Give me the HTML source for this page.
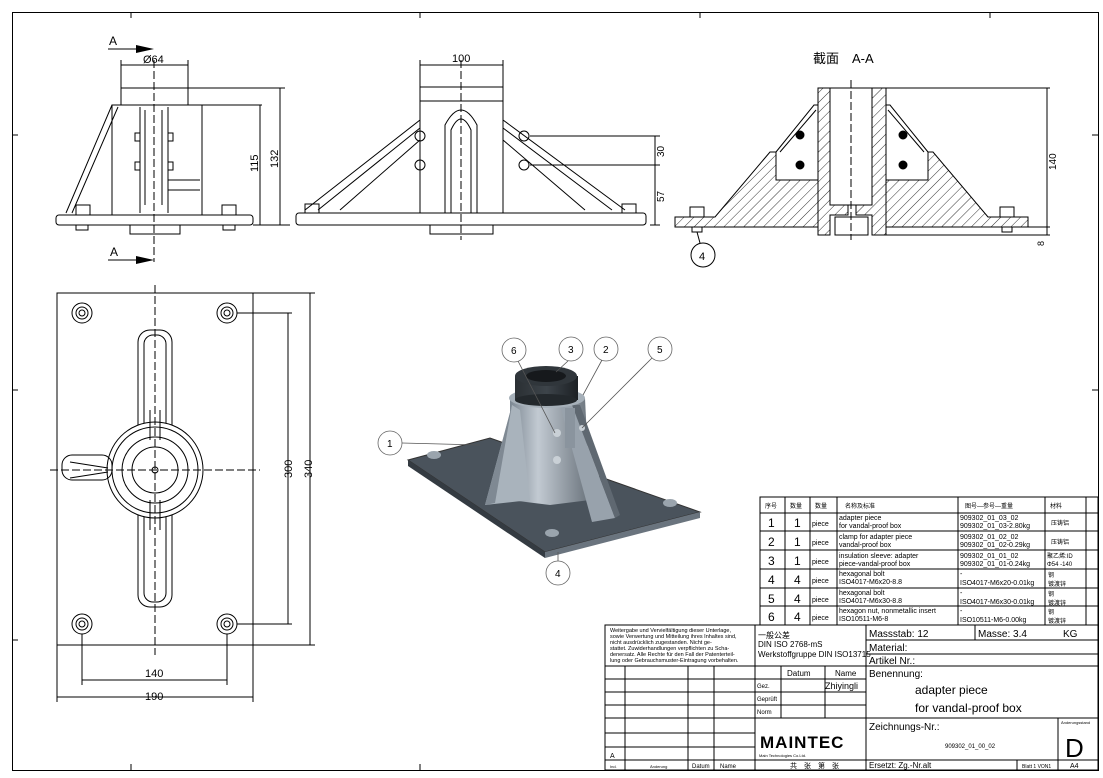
<!DOCTYPE html>
<html><head><meta charset="utf-8">
<style>
html,body{margin:0;padding:0;background:#fff;}
svg{display:block;}
text{font-family:"Liberation Sans","Noto Sans CJK SC",sans-serif;fill:#000;stroke:none;}
.m{font-family:"Liberation Mono","Noto Sans CJK SC",monospace;}
</style></head><body>
<svg width="1103" height="778" viewBox="0 0 1103 778" xmlns="http://www.w3.org/2000/svg">
<defs>
<pattern id="h" patternUnits="userSpaceOnUse" width="7" height="7" patternTransform="rotate(45)">
<line x1="0" y1="0" x2="0" y2="7" stroke="#000" stroke-width="0.8"/></pattern>
<linearGradient id="g1" x1="0" x2="1"><stop offset="0" stop-color="#7c8792"/><stop offset="0.35" stop-color="#c2cad2"/><stop offset="1" stop-color="#6a737c"/></linearGradient>
<linearGradient id="g2" x1="0" x2="1"><stop offset="0" stop-color="#2a2f33"/><stop offset="0.5" stop-color="#3d444a"/><stop offset="1" stop-color="#1c2024"/></linearGradient>
</defs>
<g fill="none" stroke="#000" stroke-width="1">
<!-- frame -->
<rect x="12.5" y="12.5" width="1086" height="758"/>
<line x1="131" y1="12" x2="131" y2="18"/><line x1="420" y1="12" x2="420" y2="18"/><line x1="700" y1="12" x2="700" y2="18"/><line x1="990" y1="12" x2="990" y2="18"/>
<line x1="131" y1="764" x2="131" y2="770"/><line x1="420" y1="764" x2="420" y2="770"/>
<line x1="12" y1="135" x2="18" y2="135"/><line x1="12" y1="390" x2="18" y2="390"/><line x1="12" y1="640" x2="18" y2="640"/>
<line x1="1092" y1="135" x2="1098" y2="135"/><line x1="1092" y1="390" x2="1098" y2="390"/>

<!-- FRONT VIEW LEFT -->
<rect x="121" y="88" width="67" height="17"/>
<rect x="112" y="105" width="90" height="110"/>
<path d="M112 105 L66 213 M118 107 L72 213"/>
<rect x="56" y="215" width="197" height="10" rx="3"/>
<rect x="130" y="225" width="50" height="9"/>
<rect x="76" y="205" width="14" height="10"/><rect x="222" y="205" width="14" height="10"/>
<rect x="76" y="225" width="12" height="5"/><rect x="223" y="225" width="12" height="5"/>
<path d="M140 107 L140 213 M168 107 L168 213 M145 110 L145 205 M162 110 L162 205"/>
<rect x="135" y="133" width="5" height="8"/><rect x="168" y="133" width="5" height="8"/>
<rect x="135" y="162" width="5" height="8"/><rect x="168" y="162" width="5" height="8"/>
<path d="M168 180 L200 180 M168 190 L200 190"/>
<line x1="154" y1="60" x2="154" y2="262" stroke-dasharray="8,3"/>
<path d="M121 88 L121 60 M188 88 L188 60 M121 65 L188 65"/>
<path d="M202 105 L262 105 M188 88 L285 88 M253 225 L290 225 M260 105 L260 225 M280 88 L280 225"/>
<path d="M108 49 L150 49 M108 260 L150 260"/>

<!-- FRONT VIEW MIDDLE -->
<rect x="420" y="87" width="83" height="14"/>
<path d="M420 101 L420 213 M503 101 L503 213"/>
<path d="M445 213 L445 125 Q461 95 477 125 L477 213 M451 213 L451 130 Q461 108 471 130 L471 213"/>
<path d="M420 120 L305 210 M420 128 L318 210 M503 120 L625 210 M503 128 L612 210"/>
<path d="M420 140 L340 210 M503 140 L585 210"/>
<rect x="296" y="213" width="350" height="12" rx="3"/>
<rect x="430" y="225" width="63" height="9"/>
<circle cx="420" cy="136" r="5"/><circle cx="420" cy="165" r="5"/><circle cx="524" cy="136" r="5"/><circle cx="524" cy="165" r="5"/>
<rect x="305" y="204" width="14" height="9"/><rect x="622" y="204" width="14" height="9"/>
<line x1="461" y1="60" x2="461" y2="240" stroke-dasharray="8,3"/>
<path d="M420 87 L420 60 M503 87 L503 60 M420 65 L503 65"/>
<path d="M530 136 L660 136 M530 165 L660 165 M650 225 L660 225 M655 136 L655 225"/>

<!-- SECTION A-A -->
<polygon points="675,217 715,217 770,152 776,152 776,180 818,180 818,227 675,227" fill="url(#h)"/>
<polygon points="1028,217 988,217 933,152 928,152 928,180 886,180 886,227 1028,227" fill="url(#h)"/>
<polygon points="818,88 830,88 830,205 848,205 848,215 830,215 830,235 818,235" fill="url(#h)"/>
<polygon points="886,88 872,88 872,205 856,205 856,215 872,215 872,235 886,235" fill="url(#h)"/>
<rect x="830" y="88" width="42" height="117"/>
<rect x="835" y="217" width="33" height="18"/>
<path d="M776 152 L776 180 L818 180 M776 152 L814 105 L818 105 M780 152 L816 110"/>
<path d="M928 152 L928 180 L886 180 M928 152 L890 105 L886 105 M924 152 L888 110"/>
<circle cx="800" cy="135" r="4" fill="#000"/><circle cx="800" cy="165" r="4" fill="#000"/>
<circle cx="903" cy="135" r="4" fill="#000"/><circle cx="903" cy="165" r="4" fill="#000"/>
<rect x="690" y="207" width="14" height="10"/><rect x="1000" y="207" width="14" height="10"/>
<rect x="692" y="227" width="10" height="5"/><rect x="1002" y="227" width="10" height="5"/>
<line x1="851" y1="80" x2="851" y2="240" stroke-dasharray="8,3"/>
<path d="M886 88 L1050 88 M886 235 L1050 235 M1028 227 L1050 227 M1047 88 L1047 235"/>
<circle cx="703" cy="255" r="12"/><path d="M697 232 L700 243"/>
</g>
<polygon points="136,45 154,49 136,53"/><polygon points="136,256 154,260 136,264"/>
<text x="109" y="45" font-size="12">A</text><text x="110" y="256" font-size="12">A</text>
<text x="143" y="63" font-size="11">Ø64</text>
<text x="0" y="0" font-size="11" transform="translate(258,172) rotate(-90)">115</text>
<text x="0" y="0" font-size="11" transform="translate(278,168) rotate(-90)">132</text>
<text x="452" y="62" font-size="11">100</text>
<text x="0" y="0" font-size="10" transform="translate(664,157) rotate(-90)">30</text>
<text x="0" y="0" font-size="10" transform="translate(664,202) rotate(-90)">57</text>
<text x="0" y="0" font-size="10" transform="translate(1056,170) rotate(-90)">140</text>
<text x="0" y="0" font-size="9" transform="translate(1044,246) rotate(-90)">8</text>
<text x="699" y="260" font-size="11">4</text>
<text x="813" y="63" font-size="13">截面　A-A</text>

<!-- PLAN VIEW -->
<g fill="none" stroke="#000" stroke-width="1">
<rect x="57" y="293" width="196" height="352"/>
<g><circle cx="82" cy="313" r="10"/><circle cx="82" cy="313" r="6"/><circle cx="82" cy="313" r="3"/>
<circle cx="227" cy="313" r="10"/><circle cx="227" cy="313" r="6"/><circle cx="227" cy="313" r="3"/>
<circle cx="82" cy="624" r="10"/><circle cx="82" cy="624" r="6"/><circle cx="82" cy="624" r="3"/>
<circle cx="227" cy="624" r="10"/><circle cx="227" cy="624" r="6"/><circle cx="227" cy="624" r="3"/></g>
<rect x="138" y="330" width="34" height="277" rx="12"/>
<rect x="144" y="335" width="22" height="267" rx="9"/>
<circle cx="155" cy="470" r="48" fill="#fff"/><circle cx="155" cy="470" r="43"/><circle cx="155" cy="470" r="33"/><circle cx="155" cy="470" r="23"/><circle cx="155" cy="470" r="3"/>
<path d="M150 410 L150 440 M160 410 L160 440 M150 500 L150 530 M160 500 L160 530"/>
<rect x="62" y="455" width="50" height="25" rx="10"/>
<path d="M70 462 L108 468 M70 478 L108 472"/>
<line x1="155" y1="285" x2="155" y2="655" stroke-dasharray="8,3"/>
<line x1="50" y1="470" x2="260" y2="470" stroke-dasharray="8,3"/>
<path d="M237 313 L292 313 M237 624 L292 624 M253 293 L315 293 M253 645 L315 645 M288 313 L288 624 M310 293 L310 645"/>
<path d="M82 634 L82 685 M227 634 L227 685 M57 645 L57 702 M253 645 L253 702 M82 680 L227 680 M57 697 L253 697"/>
</g>
<text x="0" y="0" font-size="11" transform="translate(292,478) rotate(-90)">300</text>
<text x="0" y="0" font-size="11" transform="translate(312,478) rotate(-90)">340</text>
<text x="145" y="677" font-size="11">140</text>
<text x="145" y="700" font-size="11">190</text>

<!-- 3D view -->
<polygon points="408,460 490,438 700,512 545,552" fill="#4a535c" stroke="#333"/>
<polygon points="408,460 545,552 545,558 408,466" fill="#343b42"/>
<polygon points="545,552 700,512 700,518 545,558" fill="#6a747e"/>
<polygon points="510,398 585,398 590,500 550,505 510,500" fill="url(#g1)"/>
<polygon points="512,405 520,410 530,500 485,505" fill="#a9b3bc"/>
<polygon points="512,405 500,450 485,505 495,503" fill="#7f8993"/>
<polygon points="560,405 572,405 615,518 592,522" fill="#98a2ac"/>
<polygon points="572,405 580,405 620,515 615,518" fill="#5f6871"/>
<rect x="565" y="408" width="10" height="40" fill="#8a949e"/>
<ellipse cx="547" cy="398" rx="38" ry="10" fill="#a6b0b9"/>
<rect x="515" y="376" width="63" height="24" fill="url(#g2)"/>
<ellipse cx="546" cy="400" rx="31" ry="6" fill="#23282c"/>
<ellipse cx="546" cy="376" rx="31" ry="10" fill="#30363b"/>
<ellipse cx="546" cy="376" rx="20" ry="6" fill="#16191c"/>
<g fill="#9aa4ad"><ellipse cx="434" cy="455" rx="7" ry="4"/><ellipse cx="552" cy="533" rx="7" ry="4"/><ellipse cx="670" cy="503" rx="7" ry="4"/></g>
<g fill="#c9d0d6"><circle cx="557" cy="433" r="4"/><circle cx="557" cy="460" r="4"/><circle cx="582" cy="428" r="3"/></g>
<g fill="#fff" stroke="#666" stroke-width="0.8">
<circle cx="390" cy="443" r="12"/><circle cx="514" cy="350" r="12"/><circle cx="571" cy="349" r="12"/><circle cx="606" cy="349" r="12"/><circle cx="660" cy="349" r="12"/><circle cx="558" cy="573" r="12"/></g>
<path d="M402 443 L480 445 M518 361 L555 433 M568 361 L556 372 M602 360 L583 395 M652 358 L582 428 M558 561 L558 552" fill="none" stroke="#555" stroke-width="0.8"/>
<g font-size="10" fill="#444"><text x="387" y="447">1</text><text x="511" y="354">6</text><text x="568" y="353">3</text><text x="603" y="353">2</text><text x="657" y="353">5</text><text x="555" y="577">4</text></g>

<!-- PARTS LIST -->
<g fill="none" stroke="#000" stroke-width="1">
<rect x="760" y="497" width="338" height="128"/>
<path d="M760 513 L1098 513 M760 531 L1098 531 M760 550 L1098 550 M760 569 L1098 569 M760 588 L1098 588 M760 606 L1098 606"/>
<path d="M785 497 L785 625 M810 497 L810 625 M837 497 L837 625 M958 497 L958 625 M1045 497 L1045 625 M1086 497 L1086 625"/>
</g>
<g class="m" font-size="7">
<text x="765" y="508" font-size="6">序号</text><text x="790" y="508" font-size="6">数量</text><text x="815" y="508" font-size="6">数量</text><text x="845" y="508" font-size="6">名称及标准</text><text x="965" y="508" font-size="6">图号—参号—重量</text><text x="1050" y="508" font-size="6">材料</text>
<text x="768" y="527" font-size="12">1</text><text x="794" y="527" font-size="12">1</text><text x="812" y="526">piece</text><text x="839" y="520">adapter piece</text><text x="839" y="528">for vandal-proof box</text><text x="960" y="520">909302_01_03_02</text><text x="960" y="528">909302_01_03-2.80kg</text><text x="1051" y="525" font-size="6">压铸铝</text>
<text x="768" y="546" font-size="12">2</text><text x="794" y="546" font-size="12">1</text><text x="812" y="545">piece</text><text x="839" y="539">clamp for adapter piece</text><text x="839" y="547">vandal-proof box</text><text x="960" y="539">909302_01_02_02</text><text x="960" y="547">909302_01_02-0.29kg</text><text x="1051" y="544" font-size="6">压铸铝</text>
<text x="768" y="565" font-size="12">3</text><text x="794" y="565" font-size="12">1</text><text x="812" y="564">piece</text><text x="839" y="558">insulation sleeve: adapter</text><text x="839" y="566">piece-vandal-proof box</text><text x="960" y="558">909302_01_01_02</text><text x="960" y="566">909302_01_01-0.24kg</text><text x="1047" y="558" font-size="6">聚乙烯:ID</text><text x="1047" y="566" font-size="6">Φ54 -140</text>
<text x="768" y="584" font-size="12">4</text><text x="794" y="584" font-size="12">4</text><text x="812" y="583">piece</text><text x="839" y="576">hexagonal bolt</text><text x="839" y="584">ISO4017-M6x20-8.8</text><text x="960" y="576">-</text><text x="960" y="585">ISO4017-M6x20-0.01kg</text><text x="1048" y="577" font-size="6">钢</text><text x="1048" y="586" font-size="6">镀渡锌</text>
<text x="768" y="603" font-size="12">5</text><text x="794" y="603" font-size="12">4</text><text x="812" y="602">piece</text><text x="839" y="595">hexagonal bolt</text><text x="839" y="603">ISO4017-M6x30-8.8</text><text x="960" y="595">-</text><text x="960" y="604">ISO4017-M6x30-0.01kg</text><text x="1048" y="596" font-size="6">钢</text><text x="1048" y="605" font-size="6">镀渡锌</text>
<text x="768" y="621" font-size="12">6</text><text x="794" y="621" font-size="12">4</text><text x="812" y="620">piece</text><text x="839" y="613">hexagon nut, nonmetallic insert</text><text x="839" y="621">ISO10511-M6-8</text><text x="960" y="613">-</text><text x="960" y="622">ISO10511-M6-0.00kg</text><text x="1048" y="614" font-size="6">钢</text><text x="1048" y="623" font-size="6">镀渡锌</text>
</g>

<!-- TITLE BLOCK -->
<g fill="none" stroke="#000" stroke-width="1">
<rect x="605" y="625" width="493" height="145"/>
<path d="M755 625 L755 770 M866 625 L866 770"/>
<path d="M605 666 L866 666 M605 679 L866 679 M605 692 L866 692 M605 705 L866 705 M605 718 L866 718 M605 733 L755 733 M605 747 L755 747 M605 760 L1098 760"/>
<path d="M625 666 L625 770 M688 666 L688 770 M714 666 L714 770 M781 666 L781 718 M825 666 L825 718"/>
<path d="M866 640 L1098 640 M866 654 L1098 654 M866 666 L1098 666 M866 718 L1098 718 M975 625 L975 640 M1058 718 L1058 770 M1017 760 L1017 770"/>
</g>
<g font-size="5.5"><text x="610" y="632">Weitergabe und Vervielfältigung dieser Unterlage,</text><text x="610" y="638">sowie Verwertung und Mitteilung ihres Inhaltes sind,</text><text x="610" y="644">nicht ausdrücklich zugestanden. Nicht ge-</text><text x="610" y="650">stattet. Zuwiderhandlungen verpflichten zu Scha-</text><text x="610" y="656">denersatz. Alle Rechte für den Fall der Patenterteil-</text><text x="610" y="662">lung oder Gebrauchsmuster-Eintragung vorbehalten.</text></g>
<g font-size="8"><text x="758" y="638">一般公差</text><text x="758" y="647">DIN ISO 2768-mS</text><text x="758" y="657">Werkstoffgruppe DIN ISO13715</text>
<text x="787" y="676">Datum</text><text x="835" y="676">Name</text><text x="757" y="688" font-size="6">Gez.</text><text x="757" y="701" font-size="6">Geprüft</text><text x="757" y="714" font-size="6">Norm</text>
<text x="825" y="689" font-family="Liberation Serif" font-size="9">Zhiyingli</text>
<text x="610" y="758" font-size="7">A</text><text x="610" y="768" font-size="4">Ind.</text><text x="650" y="768" font-size="4">Änderung</text><text x="692" y="768" font-size="6">Datum</text><text x="720" y="768" font-size="6">Name</text>
<text x="759" y="757" font-size="4">Main Technologies Co.Ltd.</text><text x="790" y="768" font-size="7">共　张　第　张</text>
</g>
<text x="760" y="748" font-size="17" font-weight="bold" letter-spacing="1">MAINTEC</text>
<g font-size="10"><text x="869" y="637">Massstab:  12</text><text x="978" y="637">Masse:  3.4</text><text x="1063" y="637">KG</text>
<text x="869" y="651">Material:</text><text x="869" y="664">Artikel Nr.:</text><text x="869" y="677">Benennung:</text>
<text x="869" y="730">Zeichnungs-Nr.:</text><text x="869" y="768" font-size="8">Ersetzt: Zg.-Nr.alt</text></g>
<text x="915" y="694" font-size="12">adapter piece</text><text x="915" y="712" font-size="12">for vandal-proof box</text>
<text x="945" y="748" font-size="6">909302_01_00_02</text>
<text x="1061" y="724" font-size="4">Änderungsstand</text><text x="1065" y="757" font-size="26">D</text>
<text x="1022" y="768" font-size="5">Blatt 1 VON1</text><text x="1070" y="768" font-size="7">A4</text>
</svg>
</body></html>
